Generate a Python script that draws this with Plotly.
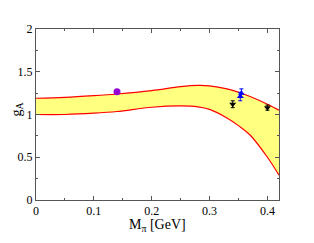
import plotly.graph_objects as go

band_x = [0.0, 0.05, 0.1, 0.14, 0.2, 0.25, 0.28, 0.3, 0.33, 0.35, 0.37, 0.4, 0.42]
band_upper = [1.19, 1.20, 1.22, 1.24, 1.28, 1.325, 1.34, 1.335, 1.30, 1.26, 1.21, 1.12, 1.05]
band_lower = [1.0, 1.0, 1.015, 1.035, 1.085, 1.10, 1.09, 1.06, 0.96, 0.87, 0.76, 0.50, 0.29]

phys_x = [0.14]
phys_y = [1.266]

blue_x = [0.353, 0.355]
blue_y = [1.21, 1.25]
blue_err = [0.05, 0.05]

black_x = [0.340, 0.400]
black_y = [1.12, 1.08]
black_err = [0.04, 0.03]

fig = go.Figure()
fig.add_trace(go.Scatter(x=band_x, y=band_lower, mode="lines", line=dict(color="red", width=1.2, shape="spline"), showlegend=False))
fig.add_trace(go.Scatter(x=band_x, y=band_upper, mode="lines", fill="tonexty", fillcolor="#ffff80",
                         line=dict(color="red", width=1.2, shape="spline"), showlegend=False))
fig.add_trace(go.Scatter(x=phys_x, y=phys_y, mode="markers", marker=dict(color="#9400d3", size=7, symbol="circle"), showlegend=False))
fig.add_trace(go.Scatter(x=blue_x, y=blue_y, mode="markers",
                         error_y=dict(type="data", array=blue_err, color="blue", width=2, thickness=1),
                         marker=dict(color="blue", size=6, symbol="triangle-up"), showlegend=False))
fig.add_trace(go.Scatter(x=black_x, y=black_y, mode="markers",
                         error_y=dict(type="data", array=black_err, color="black", width=2, thickness=1),
                         marker=dict(color="black", size=6, symbol="triangle-down"), showlegend=False))

axis_common = dict(showline=True, linecolor="#555", linewidth=1, mirror="ticks", ticks="inside",
                   ticklen=4, tickcolor="#555", showgrid=False, zeroline=False, automargin=False,
                   tickfont=dict(family="Liberation Serif", size=12, color="black"))
fig.update_xaxes(range=[0, 0.42], tickvals=[0, 0.1, 0.2, 0.3, 0.4], ticktext=["0", "0.1", "0.2", "0.3", "0.4"],
                 minor=dict(ticks="inside", ticklen=2, dtick=0.05, tickcolor="#555"),
                 **axis_common)
fig.update_yaxes(range=[0, 2], tickvals=[0, 0.5, 1, 1.5, 2], ticktext=["0", "0.5", "1", "1.5", "2"],
                 minor=dict(ticks="inside", ticklen=2, dtick=0.25, tickcolor="#555"),
                 **axis_common)
fig.add_annotation(text="M<sub>π</sub> [GeV]", xref="paper", yref="paper", x=0.5, y=-0.15,
                   xanchor="center", yanchor="middle", showarrow=False,
                   font=dict(family="Liberation Serif", size=14, color="black"))
fig.add_annotation(text="g<sub>A</sub>", xref="paper", yref="paper", x=-0.08, y=0.526,
                   xanchor="center", yanchor="middle", textangle=-90, showarrow=False,
                   font=dict(family="Liberation Serif", size=14, color="black"))
fig.update_layout(width=298, height=227, margin=dict(l=28, r=27, t=21, b=35),
                  plot_bgcolor="white", paper_bgcolor="white")
fig.write_html("out.html")
